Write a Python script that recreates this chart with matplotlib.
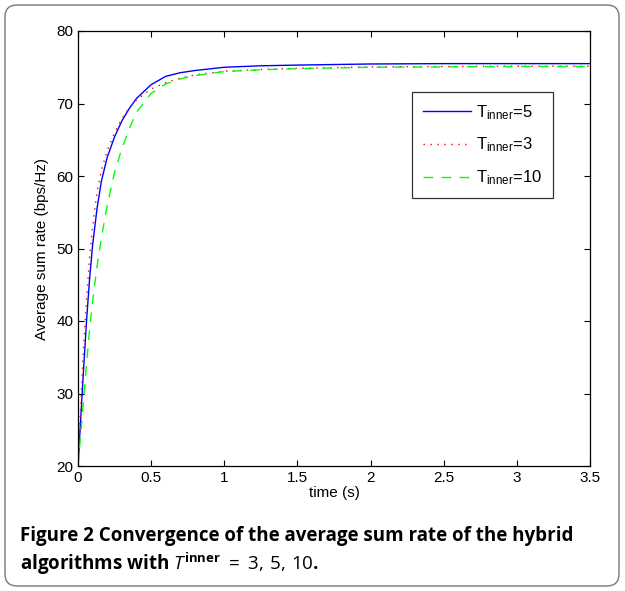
import matplotlib
matplotlib.use("Agg")
import matplotlib.pyplot as plt
from matplotlib.patches import FancyBboxPatch

# ---- data ----
t = [0, 0.02, 0.04, 0.06, 0.08, 0.1, 0.13, 0.16, 0.2, 0.25, 0.3, 0.35, 0.4,
     0.5, 0.6, 0.7, 0.8, 1.0, 1.25, 1.5, 2.0, 2.5, 3.0, 3.5]
rate_t5 = [20, 27, 34, 40.5, 46, 50.5, 55.5, 59.3, 62.6, 65.4, 67.6, 69.3, 70.7,
           72.6, 73.75, 74.25, 74.55, 75.0, 75.2, 75.3, 75.45, 75.5, 75.5, 75.5]
rate_t3 = [20, 29, 37, 43.5, 49, 53, 57.8, 60.8, 63.5, 66.0, 67.9, 69.4, 70.5,
           72.0, 72.9, 73.5, 73.95, 74.45, 74.7, 74.85, 75.05, 75.1, 75.15, 75.15]
rate_t10 = [20, 24.8, 29.5, 34.5, 39, 42.8, 47.5, 51.5, 56, 60.5, 63.8, 66.5, 68.8,
            71.4, 72.7, 73.4, 73.85, 74.4, 74.65, 74.8, 75.0, 75.05, 75.1, 75.1]
labels = ["T$_{\\mathregular{inner}}$=5", "T$_{\\mathregular{inner}}$=3",
          "T$_{\\mathregular{inner}}$=10"]
xticks = [0, 0.5, 1, 1.5, 2, 2.5, 3, 3.5]
xtick_labels = ["0", "0.5", "1", "1.5", "2", "2.5", "3", "3.5"]
yticks = [20, 30, 40, 50, 60, 70, 80]

plt.rcParams["mathtext.fontset"] = "custom"
plt.rcParams["mathtext.rm"] = "Open Sans"
plt.rcParams["mathtext.it"] = "Open Sans:italic"
plt.rcParams["mathtext.bf"] = "Open Sans:bold"

fig = plt.figure(figsize=(6.25, 5.91), dpi=100)
W, H = 625, 591
ax = fig.add_axes([78 / W, 1 - 466 / H, (590 - 78) / W, (466 - 31) / H])

ax.plot(t, rate_t5, color="#0000ff", lw=1.0, ls="-", label=labels[0])
ax.plot(t, rate_t3, color="#ff0000", lw=1.0, ls=(0, (1, 4)), label=labels[1])
ax.plot(t, rate_t10, color="#00ff00", lw=1.0, ls=(0, (7, 6)), label=labels[2])

ax.set_xlim(0, 3.5)
ax.set_ylim(20, 80)
ax.set_xticks(xticks)
ax.set_xticklabels(xtick_labels)
ax.set_yticks(yticks)
ax.tick_params(direction="in", top=True, right=True, labelsize=11, length=4,
               width=0.8)
for lab in ax.get_xticklabels() + ax.get_yticklabels():
    lab.set_fontfamily("Liberation Sans")
for s in ax.spines.values():
    s.set_linewidth(0.9)
ax.set_xlabel("time (s)", fontsize=11, family="Liberation Sans", labelpad=1)
ax.set_ylabel("Average sum rate (bps/Hz)", fontsize=11, family="Liberation Sans",
              labelpad=5)

leg = ax.legend(loc="upper right", bbox_to_anchor=(553 / W, 1 - 92 / H),
                bbox_transform=fig.transFigure, borderaxespad=0,
                prop={"family": "Liberation Sans", "size": 12},
                frameon=True, fancybox=False, edgecolor="black", handlelength=2.9,
                labelspacing=0.85, borderpad=0.65, handletextpad=0.3)
leg.get_frame().set_linewidth(0.9)

# caption
fig.text(20 / W, 1 - 536 / H, "Figure 2 Convergence of the average sum rate of the hybrid",
         fontsize=13.5, family="Open Sans", weight="bold", va="center", ha="left")
fig.text(20 / W, 1 - 564 / H,
         r"algorithms with $T^{\mathbf{inner}}\ =\ 3,\,5,\,10$.",
         fontsize=13.5, family="Open Sans", weight="bold", va="center", ha="left")

# rounded frame
frame = FancyBboxPatch((5 / W, 5 / H), (619 - 5) / W, (586 - 5) / H,
                       boxstyle="round,pad=0,rounding_size=0.02",
                       transform=fig.transFigure, fill=False, edgecolor="#777777",
                       linewidth=1.0)
fig.patches.append(frame)

fig.savefig("out.png", dpi=100)
